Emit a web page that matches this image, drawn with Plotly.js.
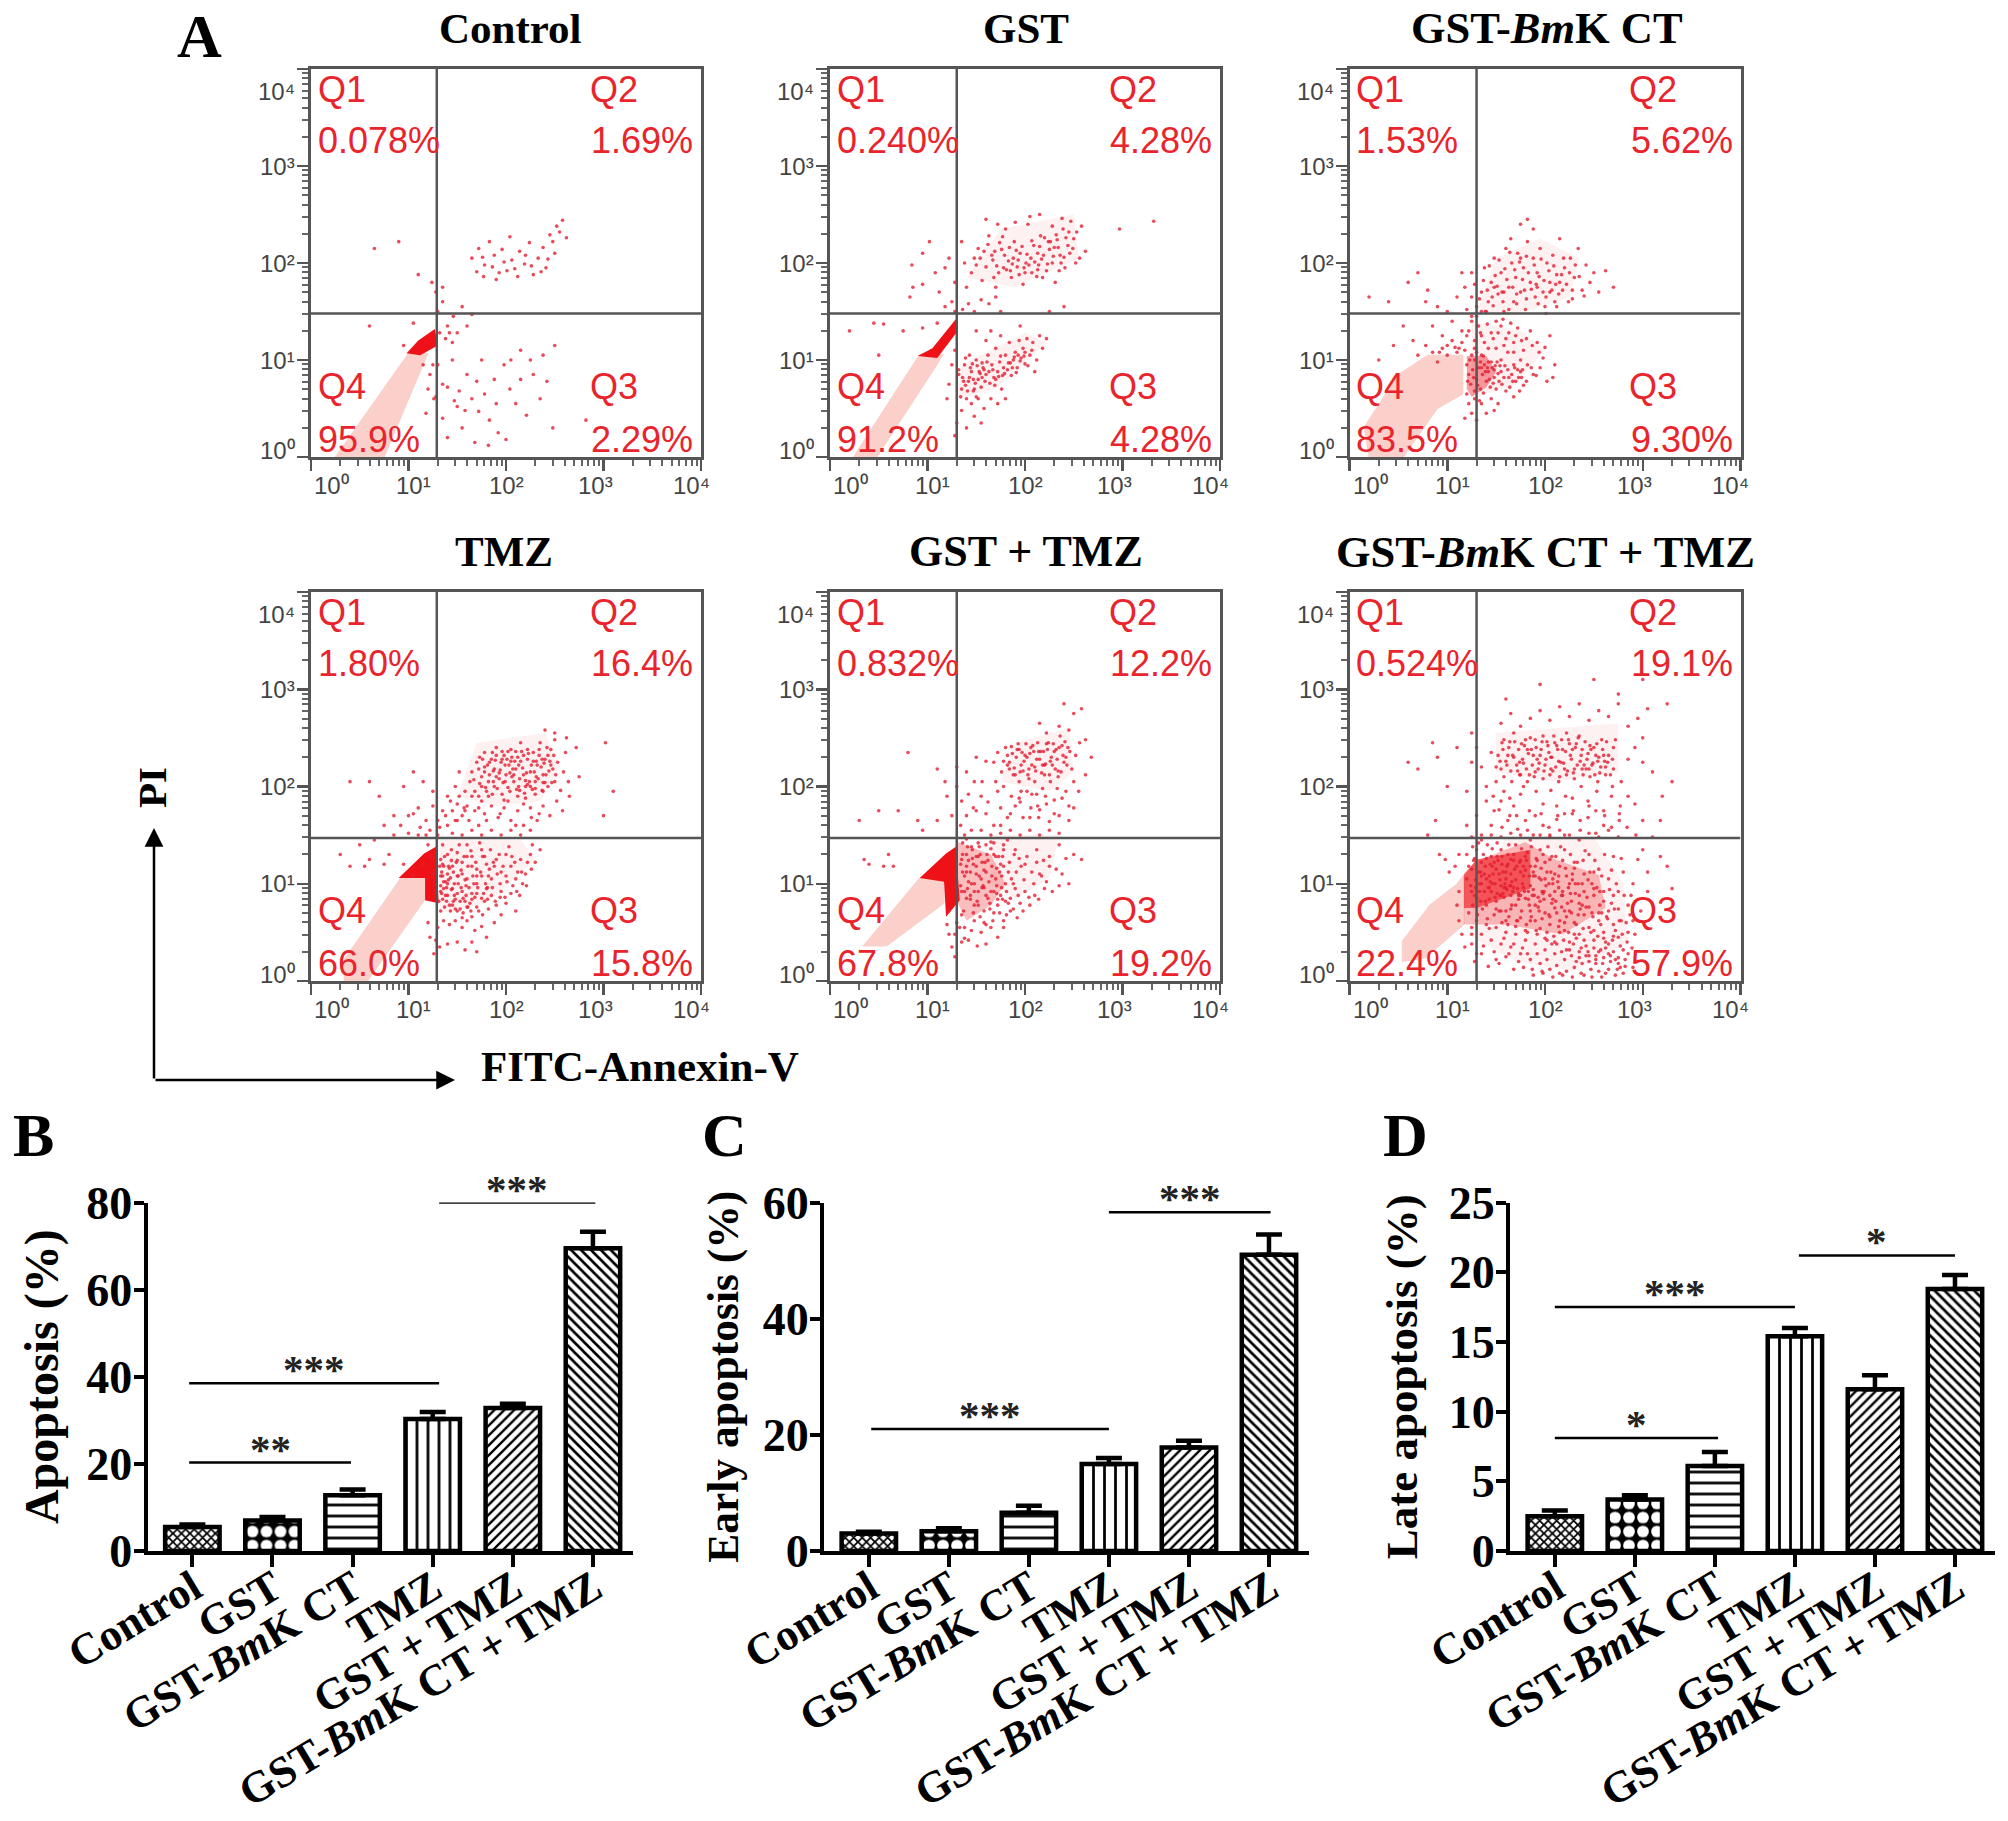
<!DOCTYPE html>
<html><head><meta charset="utf-8">
<script src="https://cdn.plot.ly/plotly-3.0.1.min.js"></script>
<style>html,body{margin:0;padding:0;background:#fff}</style></head>
<body><div id="chart" style="width:2008px;height:1821px"></div>
<script>
// ---------- bar chart data ----------
const categories = ['Control','GST','GST-<i>Bm</i>K CT','TMZ','GST + TMZ','GST-<i>Bm</i>K CT + TMZ'];
const apoptosis = [5.5,7,12.8,30.3,32.8,69.5];
const apoptosisErr = [0.6,0.8,1.3,1.6,1,3.8];
const earlyApoptosis = [3,3.4,6.6,15,17.8,51];
const earlyErr = [0.3,0.5,1.2,1,1.2,3.5];
const lateApoptosis = [2.5,3.7,6.1,15.4,11.6,18.8];
const lateErr = [0.4,0.3,1,0.6,1,1];
const apoptosisSig = [[-0.04,1.98,20.3,'**'],[-0.04,3.08,38.5,'***'],[3.08,5.03,80,'***']];
const earlySig = [[0.03,3,21,'***'],[3,5.02,58.3,'***']];
const lateSig = [[0,2.04,8.1,'*'],[0,3,17.5,'***'],[3.05,5,21.2,'*']];

// ---------- flow panels: titles and quadrant percentages ----------
const flowTitles = ['Control','GST','GST-<i>Bm</i>K CT','TMZ','GST + TMZ','GST-<i>Bm</i>K CT + TMZ'];
const titleSizes = [43,43,44.5,43,44,44.5];
const q1Pct = ['0.078%','0.240%','1.53%','1.80%','0.832%','0.524%'];
const q2Pct = ['1.69%','4.28%','5.62%','16.4%','12.2%','19.1%'];
const q3Pct = ['2.29%','4.28%','9.30%','15.8%','19.2%','57.9%'];
const q4Pct = ['95.9%','91.2%','83.5%','66.0%','67.8%','22.4%'];
const gateX = [1.29,1.30,1.30,1.29,1.30,1.30];
const gateY = [1.48,1.48,1.48,1.47,1.47,1.47];
const decadeLabels = ['10⁰','10¹','10²','10³','10⁴'];
const decadeVals = [0,1,2,3,4];

// ---------- estimated event positions: x,y pairs in hundredths of a log10 decade ----------
const controlPink=[25,0,100,107,120,107,75,0];
const controlDark=[98,107,110,120,127,132,130,115,112,105];
const controlDots=[165,205,172,215,178,198,183,222,188,208,193,190,198,201,204,227,209,194,214,212,219,199,224,221,228,188,233,205,238,216,241,195,245,229,250,210,252,238,258,244,262,226,170,191,176,206,186,196,196,214,206,203,212,186,220,208,226,197,236,191,243,204,248,222,255,232,177,186,190,183,201,192,130,150,135,160,140,135,146,145,150,128,155,155,160,135,165,147,128,170,124,180,135,175,122,85,130,95,128,62,135,40,140,72,145,100,150,52,155,30,160,85,165,60,172,47,178,65,183,38,188,80,192,25,198,95,204,70,210,55,215,110,221,43,228,85,235,60,242,78,248,30,250,115,140,20,168,15,182,12,200,18,135,75,152,68,158,48,147,58,170,78,190,55,175,100,215,80,225,100,238,105,205,100,282,38,125,95,120,70,118,45,115,95,126,60,65,215,90,222,110,188,105,138,95,115,60,135,132,128,138,122,145,118,142,128];

const gstPink=[24,0,92,106,116,106,109,94,48,0];
const gstDark=[90,104,105,112,129,142,131,130,110,102];
const gstHaze=[[140,185,175,235,250,250,255,205,190,175],[130,60,135,95,200,128,222,118,170,70]];
const gstDots=[140,175,145,190,148,205,152,215,138,200,135,222,156,182,160,196,163,228,166,208,170,175,173,190,176,214,180,235,183,202,186,185,189,222,192,196,195,210,198,178,200,190,203,240,206,205,209,218,212,186,214,198,216,228,219,208,222,192,225,214,228,200,231,180,233,224,236,208,239,235,241,195,244,218,247,243,250,225,253,232,256,205,258,238,262,212,150,198,158,212,168,185,178,195,188,205,194,188,201,200,207,190,213,210,218,185,224,222,230,216,235,192,240,206,246,210,252,200,160,245,172,240,190,242,205,248,215,250,228,238,238,246,85,175,82,165,84,198,95,210,102,222,95,178,108,190,112,170,118,195,122,205,125,160,128,180,118,155,128,150,130,148,136,152,142,158,148,150,155,162,163,158,170,165,175,150,225,150,240,155,125,95,122,75,120,60,128,110,132,85,135,70,138,95,140,60,142,78,145,88,147,68,150,100,152,80,155,72,157,92,160,85,162,105,164,76,166,95,168,82,170,112,172,88,174,98,176,70,178,92,180,105,182,90,184,118,186,84,188,100,190,108,192,92,194,120,196,102,198,112,200,96,202,122,205,105,208,118,212,100,215,125,210,88,218,112,222,122,145,55,148,42,152,60,155,35,158,50,135,48,130,35,128,22,140,30,165,60,172,55,180,60,160,120,165,130,150,130,175,125,195,135,20,130,45,138,55,137,50,105,75,130,95,133,110,138,143,82,149,76,153,88,146,96,158,90,137,78,141,68,156,82,185,97,193,105,200,108,177,84,170,80,297,235,332,243];
const gstExtra=[167,203,171,197,174,221,179,208,181,193,184,216,187,199,191,213,193,203,197,217,199,195,202,209,204,198,207,223,210,201,213,193,215,217,217,204,220,226,223,199,226,222,229,207,232,229,234,216,237,200,242,226,245,232,249,215,154,205,162,219,169,212,177,227,185,192,132,90,136,82,139,74,144,92,148,70,151,94,154,86,159,78,161,98,163,88,167,90,169,74,173,83,175,104,179,86,183,97,187,92,189,103,191,87,195,99,199,104,203,94,207,110,139,102,143,105,134,62,147,80,150,62,156,97];

const bmkPink=[15,31,50,85,80,105,116,105,116,65,90,50,55,0,20,0];
const bmkDark=[120,104,140,104,150,88,140,72,125,62,120,70];
const bmkHaze=[[130,150,150,205,195,225,235,205,225,165,175,148],[125,60,125,140,175,130,200,110,170,75]];
const bmkDots=[100,150,110,165,118,175,125,190,130,155,135,170,138,195,142,160,145,180,148,205,152,168,155,190,158,150,160,215,163,175,166,200,168,160,170,185,172,210,175,170,178,195,180,152,182,222,185,180,188,205,190,165,192,190,195,215,198,170,200,155,202,200,205,180,208,208,210,160,212,188,215,225,218,172,220,195,224,160,226,205,230,185,234,215,238,172,242,198,246,180,250,190,255,170,262,192,270,175,188,235,182,245,165,225,175,240,140,150,120,152,90,155,78,160,115,190,20,165,40,160,60,180,70,190,80,172,55,135,65,120,45,115,30,100,70,105,85,135,95,125,105,140,115,130,125,140,100,115,110,108,90,98,78,115,100,105,115,118,120,125,122,130,128,120,132,135,138,118,145,128,150,112,155,135,160,122,165,138,170,125,178,110,185,130,192,118,198,102,205,125,210,95,150,140,135,105,142,98,148,90,155,100,162,108,168,95,175,88,182,95,188,85,195,92,202,78,208,82,125,105,120,95,122,85,124,75,126,90,128,100,130,80,132,92,134,70,136,85,138,95,140,78,142,88,144,72,146,92,148,82,150,70,152,86,154,94,156,75,158,82,160,68,162,90,164,72,166,85,168,62,170,78,172,90,174,68,176,82,178,74,120,65,122,55,125,45,128,60,130,38,135,55,140,45,118,40,145,60,152,55,148,48,128,112,135,125,142,112,158,115,168,108,175,100,95,112,105,120,112,112,118,110,108,113,92,108,85,108,130,145,125,165,128,178,135,150,148,175,158,170,175,205,192,175,205,170,215,180,228,172];
const bmkExtra=[133,163,137,182,141,172,143,197,146,165,149,187,151,176,153,203,156,170,159,194,161,183,164,211,167,175,169,193,171,168,174,201,177,183,179,172,181,207,183,190,186,173,189,198,191,178,194,186,196,204,199,182,201,165,204,192,207,172,209,197,211,178,214,168,217,188,219,205,222,178,225,190,228,163,231,198,235,186,240,166,139,150,147,156,157,160,163,152,171,158,181,163,193,158,201,148,212,155,125,145,134,128,141,137,147,122,152,128,157,142,163,128,168,118,172,133,176,120,181,122,187,115,194,108,200,113,130,108,134,98,137,104,141,92,145,98,147,76,151,98,153,78,155,88,159,94,163,82,167,78,169,92,173,82,177,90,181,78,186,92,191,84,123,100,127,82,131,74,135,92,139,88,143,80,149,94,121,78,128,68,133,58,137,66];

const tmzPink=[34,22,92,106,117,106,117,84,58,0,34,0];
const tmzDark=[90,106,116,131,128,138,131,80,117,83,117,106];
const tmzHaze=[[150,190,170,245,240,255,255,220,235,185,190,180],[132,70,132,145,215,145,230,125,180,80]];
const tmzDots=[165,215,170,225,175,210,178,235,182,205,185,228,188,218,190,240,193,208,195,225,198,232,200,212,203,222,205,238,208,205,210,218,212,230,215,245,218,212,220,200,222,228,225,215,228,235,230,205,232,222,235,245,238,212,240,228,243,200,246,238,248,218,250,248,180,195,188,200,196,192,204,195,212,190,220,188,172,190,230,192,238,195,250,205,140,190,148,200,152,215,158,195,145,175,150,182,160,180,168,175,175,185,155,170,162,165,172,160,178,172,185,180,192,168,198,178,205,165,212,175,218,160,225,178,232,165,238,180,245,170,252,185,258,175,265,190,140,160,145,152,155,150,165,155,175,150,185,155,195,150,205,155,215,150,225,155,130,165,135,175,130,150,125,195,115,205,105,215,95,200,85,170,70,190,60,205,40,205,85,150,92,160,100,170,110,178,118,165,122,155,100,152,110,150,118,150,75,160,65,145,30,130,80,130,95,120,105,108,115,120,50,140,55,118,40,118,60,125,75,120,275,210,272,240,262,250,250,255,240,258,300,170,302,245,310,195,135,140,140,130,145,118,150,132,155,122,160,140,165,128,170,115,175,135,180,120,185,105,190,125,195,112,200,130,205,118,210,105,215,125,220,110,225,130,230,122,235,135,135,108,140,100,145,95,150,108,155,92,160,105,165,90,170,100,175,85,180,95,185,88,190,78,195,92,200,80,205,90,210,72,132,118,138,88,142,78,148,84,153,74,158,82,164,72,170,76,176,68,182,74,188,60,195,68,136,95,140,110,144,124,133,72,136,62,142,58,148,62,155,55,160,62,168,52,175,56,180,45,130,55,128,42,126,28,132,35,140,38,150,40,158,32,165,40,120,60,122,45,170,30];
const tmzExtra=[167,207,172,218,176,228,179,199,181,222,183,212,186,235,187,205,189,227,191,198,194,217,196,236,197,204,199,222,201,228,202,199,204,214,206,230,207,218,209,226,211,197,213,222,214,208,216,236,217,219,219,193,221,214,223,234,224,205,226,222,227,197,229,215,231,226,233,208,234,232,236,220,237,196,239,224,241,212,242,240,244,216,245,226,247,204,249,232,251,212,253,225,256,196,259,215,261,235,264,205,133,125,134,112,137,128,138,102,141,118,143,106,144,135,146,112,147,88,149,122,151,100,152,140,154,114,156,85,157,128,159,98,161,118,163,80,164,134,166,108,168,86,169,122,171,96,173,142,174,112,177,90,178,128,179,100,181,84,183,115,184,135,186,96,187,122,189,82,191,110,193,130,194,100,197,118,199,86,201,102,203,138,207,98,209,122,212,112,214,88,217,100,222,122,227,140,145,78,150,72,155,65,160,76,165,66,139,82,135,120,133,98,131,82,134,90,126,110,123,128,120,140,112,158,105,172,125,180,132,158,138,170,143,185,148,165,152,190,157,178,163,205,168,195,173,203,178,220];
const tmzMore=[133,92,135,84,136,102,137,76,139,96,140,88,141,104,143,72,144,94,146,82,147,100,148,74,150,90,151,108,153,82,154,96,156,70,158,104,159,88,161,76,162,96,165,84,167,100,170,90,172,72,175,108,178,82,181,96,133,108,136,118,142,116,150,124,155,110,160,128,165,118,170,108,176,128,182,108,188,118,194,86,200,108,206,128,211,92,216,112,221,98,226,115,173,230,178,215,183,225,187,216,190,232,193,214,196,228,199,205,202,236,205,226,208,212,210,236,213,200,215,226,218,232,220,206,222,238,225,200,228,226,231,210,234,238,237,228,240,204,243,232,246,222,175,200,182,190,190,210,198,186,206,210,214,196,222,202,230,198,238,204,150,165,158,175,165,190,172,178,180,165,186,192,194,172,202,185,210,160,218,182,226,168,234,172];

const gtPink=[34,36,92,106,117,102,117,80,58,36];
const gtDark=[92,106,119,131,129,138,133,83,119,66,117,102];
const gtDense=[131,143,165,130,180,100,165,78,140,62,131,80];
const gtHaze=[[175,205,190,245,245,260,250,215,225,195],[165,150,235,150,225,105,190,85,165,100]];
const gtDots=[168,225,172,235,176,215,180,240,184,225,188,212,192,238,196,222,200,232,204,218,208,242,212,228,216,236,220,212,224,245,228,222,232,238,236,252,240,225,244,240,248,218,252,232,256,245,170,205,178,200,186,190,194,205,202,195,210,205,218,198,226,205,234,210,242,195,250,205,215,265,222,255,235,262,245,258,250,275,240,285,258,280,262,248,268,230,262,212,255,195,250,178,245,165,238,188,230,172,222,182,214,168,206,178,198,168,190,180,182,168,175,178,168,160,160,172,155,190,148,205,140,215,130,220,150,175,140,170,145,155,135,185,155,155,165,150,175,152,185,155,195,150,205,155,215,150,225,155,235,152,110,218,120,190,110,165,90,165,95,155,125,170,118,205,80,235,70,175,50,175,30,165,40,120,35,125,55,118,60,130,65,118,250,130,258,125,235,140,225,128,212,135,200,120,190,135,182,145,175,120,168,130,160,140,152,128,145,138,138,150,135,125,140,112,145,100,150,118,155,105,160,112,165,92,170,105,175,88,180,100,185,85,190,95,195,80,200,92,205,78,210,88,135,92,140,85,148,78,152,92,158,72,162,85,168,70,172,78,178,62,185,72,192,65,198,72,130,60,128,48,125,35,128,25,135,40,138,55,142,42,148,62,155,50,160,38,165,55,172,45,178,55,122,72,120,58,122,48,215,110,225,118,235,98,245,100,220,95];
const gtExtra=[182,232,186,241,189,219,191,230,193,244,195,215,197,235,199,226,201,244,203,212,205,234,207,222,209,236,211,216,213,245,215,228,217,214,219,236,221,223,223,238,225,212,227,230,229,244,231,218,233,228,235,240,237,215,239,232,241,246,243,222,246,236,194,188,207,192,213,180,221,190,233,198,140,130,136,142,134,120,138,108,142,124,144,112,146,135,148,100,150,128,153,108,156,122,158,96,161,130,163,102,166,118,168,142,171,98,173,128,176,108,178,135,181,92,184,122,186,105,189,130,191,112,193,88,196,118,199,104,202,128,204,86,207,112,209,100,212,122,214,84,217,108,219,124,222,102,228,92,232,115,238,110,242,126,137,72,141,95,144,88,147,70,151,82,154,66,157,98,160,58,164,80,167,62,171,90,174,70,177,84,181,68,183,80,188,74,135,68,133,55,138,44,145,52,151,36,158,60,140,146,152,142,165,143,178,140,130,200,134,160,142,192,147,178,156,205,162,184,172,195,182,222,160,226,150,230];
const gtMore=[134,98,136,112,138,92,140,118,142,102,144,84,146,126,148,92,150,110,152,78,154,130,156,96,158,114,160,88,162,124,164,74,166,108,168,92,170,128,172,84,174,112,176,96,178,118,180,82,136,130,141,138,147,120,153,138,159,122,165,136,171,116,177,128,183,112,188,100,194,126,178,226,184,218,187,234,190,212,194,238,198,216,202,230,206,240,210,220,214,236,218,222,222,244,226,226,230,236,234,216,238,242,242,230,196,195,204,208,212,192,220,222,230,186,175,160,185,172,195,184,205,168,215,176,225,164,235,170,245,180];

const lastPink=[54,41,82,78,109,99,117,109,117,58,78,24,54,20];
const lastDense1=[117,110,129,123,180,143,208,126,255,109,262,75,218,48,160,58,117,58];
const lastDense2=[117,109,130,125,185,135,185,95,130,75,117,75];
const lastHaze=[[150,215,150,255,275,265,275,215,210,205],[160,148,250,148,280,100,285,40,230,10,170,20,125,45,125,70]];
const lastDots=[150,220,156,245,162,232,168,255,174,225,180,248,186,238,192,228,198,252,204,235,210,245,216,225,222,255,228,238,234,250,240,222,246,242,252,232,258,248,264,225,270,240,150,205,158,210,166,205,174,212,182,205,190,215,198,208,206,218,214,205,222,212,230,208,238,218,246,210,254,205,262,212,270,218,278,205,155,265,165,275,175,262,185,270,195,278,205,268,215,282,225,272,235,285,245,268,255,278,265,272,275,285,285,262,295,270,300,250,292,240,285,228,300,225,305,280,310,215,125,255,130,240,125,225,135,220,140,200,145,235,140,185,148,175,155,185,162,165,168,180,175,192,182,155,190,170,198,160,205,150,212,180,220,172,228,188,236,165,244,185,252,175,260,160,268,190,276,172,284,158,292,182,300,165,120,160,145,160,130,170,135,150,120,195,100,200,88,165,80,150,70,218,85,245,110,240,90,230,60,225,195,305,250,310,160,290,275,295,300,310,325,285,330,205,320,190,318,165,125,148,135,145,145,150,155,148,165,152,175,150,185,145,195,150,205,148,215,155,225,150,235,145,245,152,255,148,265,155,275,148,120,130,125,115,130,135,135,122,140,105,145,128,150,115,155,135,160,105,165,125,170,140,175,112,180,128,185,98,190,118,195,135,200,105,205,125,210,92,215,118,220,135,225,100,230,122,235,88,240,110,245,130,250,95,255,115,260,82,265,105,270,128,275,92,280,112,285,78,290,100,295,125,300,135,305,112,120,105,125,92,130,85,135,100,140,78,145,92,150,82,155,98,160,72,165,88,170,78,175,65,180,85,185,72,190,62,195,82,200,70,205,58,210,75,215,62,220,52,225,72,230,60,235,48,240,68,245,55,250,42,255,62,260,50,265,38,270,58,275,45,280,32,285,50,290,62,122,70,125,55,130,62,135,48,140,58,145,42,150,55,155,38,160,50,165,35,170,48,175,28,180,42,185,22,190,38,195,18,200,32,205,12,210,28,215,8,220,22,225,40,230,14,235,30,240,6,245,20,250,34,255,10,260,24,265,12,270,30,275,18,280,8,285,28,290,14,125,38,128,20,135,28,142,15,150,22,160,25,168,12,178,14,188,6,198,8,208,4,218,6,228,4,238,18,248,4,258,4,310,148,318,128,325,118,330,95,165,110,172,95,178,118,188,108,198,90,208,105,218,88,228,110,238,78,248,100,258,70,268,80,278,62,288,88,298,72,305,92,155,72,162,58,172,62,182,50,192,48,202,42,212,38,222,32,232,44,242,36,252,22,262,34,272,22,282,15,112,130,108,118,98,125,92,130,102,112,112,92,110,78,112,62,115,48,118,35];
const lastExtra=[152,232,155,218,158,248,160,226,163,240,165,216,167,232,169,246,171,222,173,238,175,212,177,228,179,242,181,218,183,234,185,250,187,222,189,210,191,240,193,218,195,232,197,246,199,216,201,228,203,242,205,212,207,230,209,252,211,220,213,238,215,210,217,248,219,224,221,236,223,216,225,244,227,228,229,214,231,240,233,222,235,252,237,232,239,212,241,246,243,228,245,218,247,238,249,224,251,212,253,244,255,230,257,220,259,238,261,226,263,246,265,232,267,212,269,228,272,248,147,190,153,176,158,195,164,188,171,170,178,200,184,175,191,195,198,182,206,196,213,170,221,190,229,175,237,200,245,180,253,195,261,170,269,200,277,180,285,190,293,150,156,158,164,170,172,156,180,165,188,150,196,172,204,158,212,166,220,150,228,172,236,155,244,168,252,152,260,175,268,158,276,165,126,138,128,126,132,142,134,112,137,130,139,118,141,140,143,108,146,136,148,122,151,142,153,110,156,128,158,96,161,118,163,140,166,102,168,130,171,118,173,90,176,136,178,108,181,124,183,92,186,138,188,112,191,126,193,86,196,116,198,130,201,98,203,138,206,112,208,84,211,128,213,102,216,138,218,92,221,116,223,80,226,130,228,104,231,90,233,122,236,74,238,100,241,134,243,86,246,112,248,70,251,124,253,96,256,78,258,108,261,130,263,66,266,94,268,114,271,74,273,100,276,62,278,126,281,88,283,60,126,78,129,104,131,68,133,92,136,74,138,110,141,64,143,84,146,100,148,68,151,90,153,72,156,60,158,86,161,94,163,66,166,78,168,96,171,62,173,84,176,72,179,92,181,58,184,78,186,66,189,88,191,52,194,72,197,64,199,84,202,50,204,68,207,80,209,46,212,70,214,56,217,76,219,42,222,66,224,50,227,82,229,38,232,58,234,68,237,34,239,54,242,76,244,30,247,50,249,66,252,26,254,46,257,58,259,18,262,40,264,64,267,26,269,42,272,52,274,12,277,36,279,48,282,22,284,40,287,68,289,34,292,48,294,20,125,48,130,28,137,36,143,54,148,30,153,18,158,44,163,28,168,38,173,20,177,34,182,28,187,12,192,28,197,10,202,22,207,38,212,16,217,30,222,10,227,26,232,20,237,8,242,26,247,12,252,18,257,32,262,8,267,20,272,6,277,14];
const lastMore=[154,226,157,238,161,222,164,246,168,230,172,216,176,244,178,224,182,238,184,212,188,232,190,248,194,224,196,238,200,222,202,246,206,230,208,216,212,242,214,226,218,238,220,218,224,248,226,232,230,218,232,244,236,226,238,238,242,218,244,234,248,222,250,240,254,226,256,214,260,232,262,220,156,120,159,100,162,130,167,92,169,115,174,122,177,100,182,132,184,108,187,88,192,124,194,106,197,92,200,122,204,100,207,128,210,110,214,96,218,124,222,108,226,90,230,116,234,100,239,124,244,104,250,112,256,92,142,96,144,120,147,110,149,86,152,124,154,104,157,90,160,112,164,98,122,118,124,98,127,124,129,96,132,112,134,82,135,108,138,92,140,126,143,96,146,118,149,100,151,128,154,88,157,112,160,96,162,120,165,98,168,124,170,104,173,88,175,124,178,96,180,114,183,84,185,118,188,94,190,108,193,76,196,104,199,92,202,112,205,88,208,100,211,82,214,108,217,88,220,72,224,96,227,70,231,100,235,80,240,92,245,76,250,88,255,70,260,92,265,72,270,88,275,74,128,88,133,100,139,82,144,102,150,74,155,88,160,62,165,74,170,56,175,88,180,52,185,62,190,78,195,54,200,44,205,66,210,40,215,50,220,60,225,32,230,48,235,24,240,42,245,26,250,52,255,30,260,44,265,28,270,46,275,24];

const flowPanels = [
  {dots:controlDots, pink:controlPink, dark:controlDark, haze:[]},
  {dots:gstDots.concat(gstExtra), pink:gstPink, dark:gstDark, haze:gstHaze},
  {dots:bmkDots.concat(bmkExtra), pink:bmkPink, dark:bmkDark, darkAlpha:0.4, haze:bmkHaze},
  {dots:tmzDots.concat(tmzExtra,tmzMore), pink:tmzPink, dark:tmzDark, haze:tmzHaze},
  {dots:gtDots.concat(gtExtra,gtMore), pink:gtPink, dark:gtDark, dense:gtDense, haze:gtHaze},
  {dots:lastDots.concat(lastExtra,lastMore), pink:lastPink, dark:lastDense2, dense:lastDense1, darkAlpha:0.6, haze:lastHaze}
];

// ---------- layout constants (pixels) ----------
const W=2008, H=1821;
const colX=[[311,701],[830,1220],[1349.5,1740.5]];
const rowY=[[69,457],[592,981]];
const titlePos=[[510,28],[1026,28],[1547,28],[504,551],[1026,551],[1545,552]];
const px=v=>v/W, py=v=>1-v/H;
const SERIF='"Liberation Serif", serif', SANS='"Liberation Sans", Arial, sans-serif';

const traces=[]; const annotations=[]; const layout={
  width:W,height:H,margin:{l:0,r:0,t:0,b:0},paper_bgcolor:'#fff',plot_bgcolor:'rgba(0,0,0,0)',
  showlegend:false,annotations:annotations,bargap:0.3,hovermode:false
};
function pts(a){const x=[],y=[];for(let i=0;i<a.length;i+=2){x.push(a[i]/100);y.push(a[i+1]/100);}return {x,y};}
function closed(a){const p=pts(a);p.x.push(p.x[0]);p.y.push(p.y[0]);return p;}
function label(text,x,y,size,opt){annotations.push(Object.assign({text,x:px(x),y:py(y),xref:'paper',yref:'paper',showarrow:false,xanchor:'center',yanchor:'middle',font:{family:SERIF,size,color:'#000',weight:700}},opt||{}));}

const minorVals=[];for(let d=0;d<4;d++)for(let m=2;m<10;m++)minorVals.push(d+Math.log10(m));
let axisId=1;

flowPanels.forEach((p,i)=>{
  const id=axisId++, xa='x'+id, ya='y'+id;
  const X=colX[i%3], Y=rowY[i<3?0:1];
  const axisBase={range:[0,4],showgrid:false,zeroline:false,showline:true,mirror:true,linecolor:'#555',linewidth:3,
    ticks:'outside',tickmode:'array',tickvals:decadeVals,ticklen:11,tickwidth:2.5,tickcolor:'#555',showticklabels:false,
    minor:{ticks:'outside',tickmode:'array',tickvals:minorVals,ticklen:6,tickwidth:2,tickcolor:'#666'}};
  layout['xaxis'+id]=Object.assign({},axisBase,{domain:[px(X[0]),px(X[1])],anchor:ya});
  layout['yaxis'+id]=Object.assign({},axisBase,{domain:[py(Y[1]),py(Y[0])],anchor:xa});
  const c=closed(p.pink);
  traces.push({type:'scatter',mode:'lines',x:c.x,y:c.y,fill:'toself',fillcolor:'#fbcfca',line:{color:'#fbcfca',width:1},xaxis:xa,yaxis:ya});
  p.haze.forEach(h=>{const e=closed(h);traces.push({type:'scatter',mode:'lines',x:e.x,y:e.y,fill:'toself',fillcolor:'rgba(240,80,90,0.08)',line:{width:0},xaxis:xa,yaxis:ya});});
  if(p.dense){const e=closed(p.dense);traces.push({type:'scatter',mode:'lines',x:e.x,y:e.y,fill:'toself',fillcolor:'rgba(238,40,40,0.3)',line:{width:0},xaxis:xa,yaxis:ya});}
  const k=closed(p.dark), a=p.darkAlpha||1;
  traces.push({type:'scatter',mode:'lines',x:k.x,y:k.y,fill:'toself',fillcolor:`rgba(238,18,24,${a})`,line:{width:0},xaxis:xa,yaxis:ya});
  const d=pts(p.dots);
  traces.push({type:'scatter',mode:'markers',x:d.x,y:d.y,marker:{size:3.6,color:'rgba(228,30,50,0.8)',line:{width:0}},xaxis:xa,yaxis:ya});
  traces.push({type:'scatter',mode:'lines',x:[gateX[i],gateX[i]],y:[0,4],line:{color:'#555',width:2.5},xaxis:xa,yaxis:ya});
  traces.push({type:'scatter',mode:'lines',x:[0,4],y:[gateY[i],gateY[i]],line:{color:'#555',width:2.5},xaxis:xa,yaxis:ya});
  const q=(text,x,y,anchor)=>annotations.push({text,x,y,xref:xa,yref:ya,showarrow:false,xanchor:anchor,yanchor:'middle',font:{family:SANS,size:36,color:'#e9242c'}});
  q('Q1',0.05,3.79,'left');q('Q2',2.84,3.79,'left');q('Q4',0.05,0.73,'left');q('Q3',2.84,0.73,'left');
  q(q1Pct[i],0.05,3.26,'left');q(q2Pct[i],3.94,3.26,'right');q(q4Pct[i],0.05,0.18,'left');q(q3Pct[i],3.94,0.18,'right');
  const tickX=[0.21,1.05,2.01,2.92,3.9], tickY=[0.07,1.0,2.0,3.0,3.77];
  decadeLabels.forEach((n,j)=>{
    annotations.push({text:n,x:tickX[j],y:py(Y[1]+28),xref:xa,yref:'paper',showarrow:false,xanchor:'center',yanchor:'middle',font:{family:SANS,size:24,color:'#444'}});
    annotations.push({text:n,x:px(X[0]-14),y:tickY[j],xref:'paper',yref:ya,showarrow:false,xanchor:'right',yanchor:'middle',font:{family:SANS,size:24,color:'#444'}});
  });
  label(flowTitles[i],titlePos[i][0],titlePos[i][1],titleSizes[i]);
});

// ---------- bar charts ----------
const BAR_TOP=1202.5, BAR_BOTTOM=1551;
const barCharts=[
 {vals:apoptosis,err:apoptosisErr,sig:apoptosisSig,ymax:80,dtick:20,title:'Apoptosis (%)',titleSize:48,standoff:13,x0:147.5,x1:633},
 {vals:earlyApoptosis,err:earlyErr,sig:earlySig,ymax:60,dtick:20,title:'Early apoptosis (%)',titleSize:43.5,standoff:12,x0:824,x1:1309},
 {vals:lateApoptosis,err:lateErr,sig:lateSig,ymax:25,dtick:5,title:'Late apoptosis (%)',titleSize:45,standoff:18,x0:1510,x1:1995}
];
const patterns=[
 {shape:'x',size:6,solidity:0.5,fg:'#000',bg:'#fff'},{shape:'.',size:14,solidity:0.55,fg:'#fff',bg:'#000'},{shape:'-',size:11,solidity:0.25,fg:'#000',bg:'#fff'},
 {shape:'|',size:11,solidity:0.25,fg:'#000',bg:'#fff'},{shape:'/',size:7,solidity:0.34,fg:'#000',bg:'#fff'},{shape:'\\',size:7,solidity:0.38,fg:'#000',bg:'#fff'}
];
const idx=categories.map((_,i)=>i);
barCharts.forEach(b=>{
  const id=axisId++, xa='x'+id, ya='y'+id;
  layout['xaxis'+id]={domain:[px(b.x0),px(b.x1)],anchor:ya,range:[-0.56,5.5],showgrid:false,zeroline:false,showline:true,linecolor:'#000',linewidth:4,
    ticks:'outside',ticklen:12,tickwidth:4,tickcolor:'#000',tickmode:'array',tickvals:idx,ticktext:categories,tickangle:-31,ticklabelstandoff:-22,ticklabelshift:1,
    tickfont:{family:SERIF,size:44,color:'#000',weight:700}};
  const ticks=[];for(let t=0;t<=b.ymax;t+=b.dtick)ticks.push(t);
  layout['yaxis'+id]={domain:[py(BAR_BOTTOM),py(BAR_TOP)],anchor:xa,range:[0,b.ymax],showgrid:false,zeroline:false,showline:true,linecolor:'#000',linewidth:4,
    ticks:'outside',ticklen:10,tickwidth:4,tickcolor:'#000',tickmode:'array',tickvals:ticks,ticklabelstandoff:-8,
    tickfont:{family:SERIF,size:46,color:'#000',weight:700},
    title:{text:b.title,standoff:b.standoff,font:{family:SERIF,size:b.titleSize,color:'#000',weight:700}}};
  traces.push({type:'bar',x:idx,y:b.vals,width:0.68,xaxis:xa,yaxis:ya,cliponaxis:false,
    marker:{color:'#fff',line:{color:'#000',width:4.5},
      pattern:{shape:patterns.map(p=>p.shape),size:patterns.map(p=>p.size),solidity:patterns.map(p=>p.solidity),fgcolor:patterns.map(p=>p.fg),bgcolor:patterns.map(p=>p.bg),fillmode:'replace'}},
    error_y:{type:'data',symmetric:false,array:b.err,arrayminus:b.err.map(()=>0),color:'#000',thickness:4.5,width:13}});
  b.sig.forEach(s=>{
    traces.push({type:'scatter',mode:'lines',x:[s[0],s[1]],y:[s[2],s[2]],line:{color:'#000',width:2.5},xaxis:xa,yaxis:ya,cliponaxis:false});
    const lineY=BAR_BOTTOM-(s[2]/b.ymax)*(BAR_BOTTOM-BAR_TOP);
    annotations.push({text:s[3],x:(s[0]+s[1])/2,y:py(lineY-14),xref:xa,yref:'paper',showarrow:false,xanchor:'center',yanchor:'middle',font:{family:SERIF,size:41,color:'#222',weight:700}});
  });
});

// ---------- panel letters and shared axis captions ----------
label('A',199,36,62);label('B',33,1135,62);label('C',724,1135,62);label('D',1405,1135,62);
label('FITC-Annexin-V',640,1066,43);
label('PI',152,788,41,{textangle:-90});
const arrow={xref:'paper',yref:'paper',showarrow:true,arrowhead:2,arrowsize:1.5,arrowwidth:2.5,arrowcolor:'#000',text:''};
annotations.push(Object.assign({},arrow,{x:px(154),y:py(828),ax:0,ay:252}));
annotations.push(Object.assign({},arrow,{x:px(455),y:py(1080),ax:-301,ay:0}));

Plotly.newPlot('chart',traces,layout,{staticPlot:true,displayModeBar:false});
</script></body></html>
